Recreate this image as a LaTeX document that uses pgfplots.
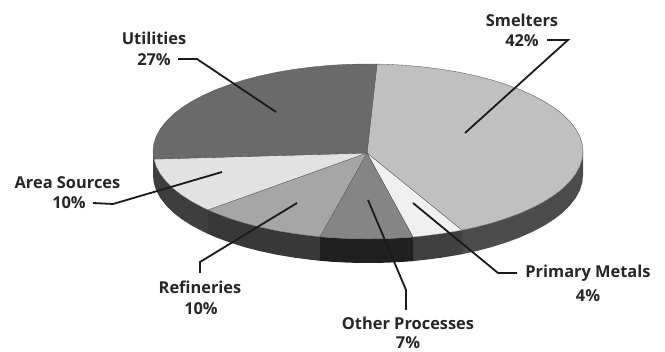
\documentclass[border=0pt]{standalone}
\usepackage{pgfplots}
\pgfplotsset{compat=1.18}
\usepackage{fontspec}
\setmainfont{Open Sans}
% Slice top faces
\definecolor{smeltTop}{HTML}{C0C0C0}
\definecolor{primTop}{HTML}{F0F0F0}
\definecolor{otherTop}{HTML}{858585}
\definecolor{refinTop}{HTML}{A6A6A6}
\definecolor{areaTop}{HTML}{E2E2E2}
\definecolor{utilTop}{HTML}{6A6A6A}
% Slice rims
\definecolor{smeltRim}{HTML}{4C4C4C}
\definecolor{primRim}{HTML}{404040}
\definecolor{otherRim}{HTML}{202020}
\definecolor{refinRim}{HTML}{383838}
\definecolor{areaRim}{HTML}{3E3E3E}
\definecolor{leader}{HTML}{1A1A1A}
\definecolor{seam}{HTML}{555555}
\tikzset{lbl/.style={font=\bfseries\fontsize{16.4}{18}\selectfont, text=black!85, anchor=center, inner sep=0pt}}
\begin{document}
\begin{tikzpicture}
\begin{axis}[
  scale only axis, width=665pt, height=352pt,
  xmin=0, xmax=665, ymin=0, ymax=352, y dir=reverse,
  hide axis, clip=false,
  every axis plot/.append style={no markers},
]
\coordinate (frameA) at (axis cs:0,0);
\coordinate (frameB) at (axis cs:665,352);
% Rim of the pie, 24 units below the top face
\addplot[fill=smeltRim, draw=none] coordinates {(583,151.5)(582.2,159.1)(579.7,166.7)(575.7,174.1)(570,181.4)(562.9,188.5)(554.2,195.25)(544.1,201.7)(532.7,207.7)(520,213.4)(506.2,218.5)(491.3,223.2)(475.5,227.3)(462,230.2)
 (462,254.2)(475.5,251.3)(491.3,247.2)(506.2,242.5)(520,237.4)(532.7,231.7)(544.1,225.7)(554.2,219.25)(562.9,212.5)(570,205.4)(575.7,198.1)(579.7,190.7)(582.2,183.1)(583,175.5)(583,151.5)};
\addplot[fill=primRim, draw=none] coordinates {(462,230.2)(458.9,230.8)(441.5,233.7)(423.6,236)(413,237.1)
 (413,261.1)(423.6,260)(441.5,257.7)(458.9,254.8)(462,254.2)(462,230.2)};
\addplot[fill=otherRim, draw=none] coordinates {(413,237.1)(405.3,237.7)(386.7,238.7)(368,239)(349.3,238.7)(330.7,237.7)(320,236.8)
 (320,260.8)(330.7,261.7)(349.3,262.7)(368,263)(386.7,262.7)(405.3,261.7)(413,261.1)(413,237.1)};
\addplot[fill=refinRim, draw=none] coordinates {(320,236.8)(312.4,236)(294.5,233.7)(277.1,230.8)(260.5,227.3)(244.7,223.2)(229.8,218.5)(216,213.4)(208,209.9)
 (208,233.9)(216,237.4)(229.8,242.5)(244.7,247.2)(260.5,251.3)(277.1,254.8)(294.5,257.7)(312.4,260)(320,260.8)(320,236.8)};
\addplot[fill=areaRim, draw=none] coordinates {(208,209.9)(203.3,207.7)(191.9,201.7)(181.8,195.25)(173.1,188.5)(166,181.4)(160.3,174.1)(156.3,166.7)(153.8,159.1)(153,151.5)
 (153,175.5)(153.8,183.1)(156.3,190.7)(160.3,198.1)(166,205.4)(173.1,212.5)(181.8,219.25)(191.9,225.7)(203.3,231.7)(208,233.9)(208,209.9)};
% Top faces
\addplot[fill=smeltTop, draw=seam, line width=0.35pt] coordinates {(367,153)(377,64.1)(386.7,64.3)(405.3,65.3)(423.6,67)(441.5,69.3)(458.9,72.2)(475.5,75.7)(491.3,79.8)(506.2,84.5)(520,89.6)(532.7,95.3)(544.1,101.3)(554.2,107.75)(562.9,114.5)(570,121.6)(575.7,128.9)(579.7,136.3)(582.2,143.9)(583,151.5)(582.2,159.1)(579.7,166.7)(575.7,174.1)(570,181.4)(562.9,188.5)(554.2,195.25)(544.1,201.7)(532.7,207.7)(520,213.4)(506.2,218.5)(491.3,223.2)(475.5,227.3)(462,230.2)(367,153)};
\addplot[fill=primTop, draw=seam, line width=0.35pt] coordinates {(367,153)(462,230.2)(458.9,230.8)(441.5,233.7)(423.6,236)(413,237.1)(367,153)};
\addplot[fill=otherTop, draw=seam, line width=0.35pt] coordinates {(367,153)(413,237.1)(405.3,237.7)(386.7,238.7)(368,239)(349.3,238.7)(330.7,237.7)(320,236.8)(367,153)};
\addplot[fill=refinTop, draw=seam, line width=0.35pt] coordinates {(367,153)(320,236.8)(312.4,236)(294.5,233.7)(277.1,230.8)(260.5,227.3)(244.7,223.2)(229.8,218.5)(216,213.4)(208,209.9)(367,153)};
\addplot[fill=areaTop, draw=seam, line width=0.35pt] coordinates {(367,153)(208,209.9)(203.3,207.7)(191.9,201.7)(181.8,195.25)(173.1,188.5)(166,181.4)(160.3,174.1)(156.3,166.7)(153.8,159.1)(367,153)};
\addplot[fill=utilTop, draw=seam, line width=0.35pt] coordinates {(367,153)(153.8,159.1)(153,151.5)(153.8,143.9)(156.3,136.3)(160.3,128.9)(166,121.6)(173.1,114.5)(181.8,107.75)(191.9,101.3)(203.3,95.3)(216,89.6)(229.8,84.5)(244.7,79.8)(260.5,75.7)(277.1,72.2)(294.5,69.3)(312.4,67)(330.7,65.3)(349.3,64.3)(368,64)(377,64.1)(367,153)};
% Leader lines
\addplot[draw=leader, line width=1.8pt] coordinates {(178,59)(197,59)(276,112)};
\addplot[draw=leader, line width=1.8pt] coordinates {(547,40)(568,40)(465,133)};
\addplot[draw=leader, line width=1.8pt] coordinates {(93,203)(113,204)(222,172)};
\addplot[draw=leader, line width=1.8pt] coordinates {(200,273)(200,262)(297,203)};
\addplot[draw=leader, line width=1.8pt] coordinates {(406,310)(406,290)(368,200)};
\addplot[draw=leader, line width=1.8pt] coordinates {(517,273)(498,273)(413,203)};
% Labels
\node[lbl] at (axis cs:154,38) {Utilities};
\node[lbl] at (axis cs:154,60) {27\%};
\node[lbl] at (axis cs:522,20) {Smelters};
\node[lbl] at (axis cs:522,41) {42\%};
\node[lbl] at (axis cs:67.5,183) {Area Sources};
\node[lbl] at (axis cs:69,203) {10\%};
\node[lbl] at (axis cs:200,287) {Refineries};
\node[lbl] at (axis cs:201,309) {10\%};
\node[lbl] at (axis cs:408,323) {Other Processes};
\node[lbl] at (axis cs:408,343) {7\%};
\node[lbl] at (axis cs:588,273) {Primary Metals};
\node[lbl] at (axis cs:588,296) {4\%};
\end{axis}
\pgfresetboundingbox
\path (frameA) rectangle (frameB);
\end{tikzpicture}
\end{document}
